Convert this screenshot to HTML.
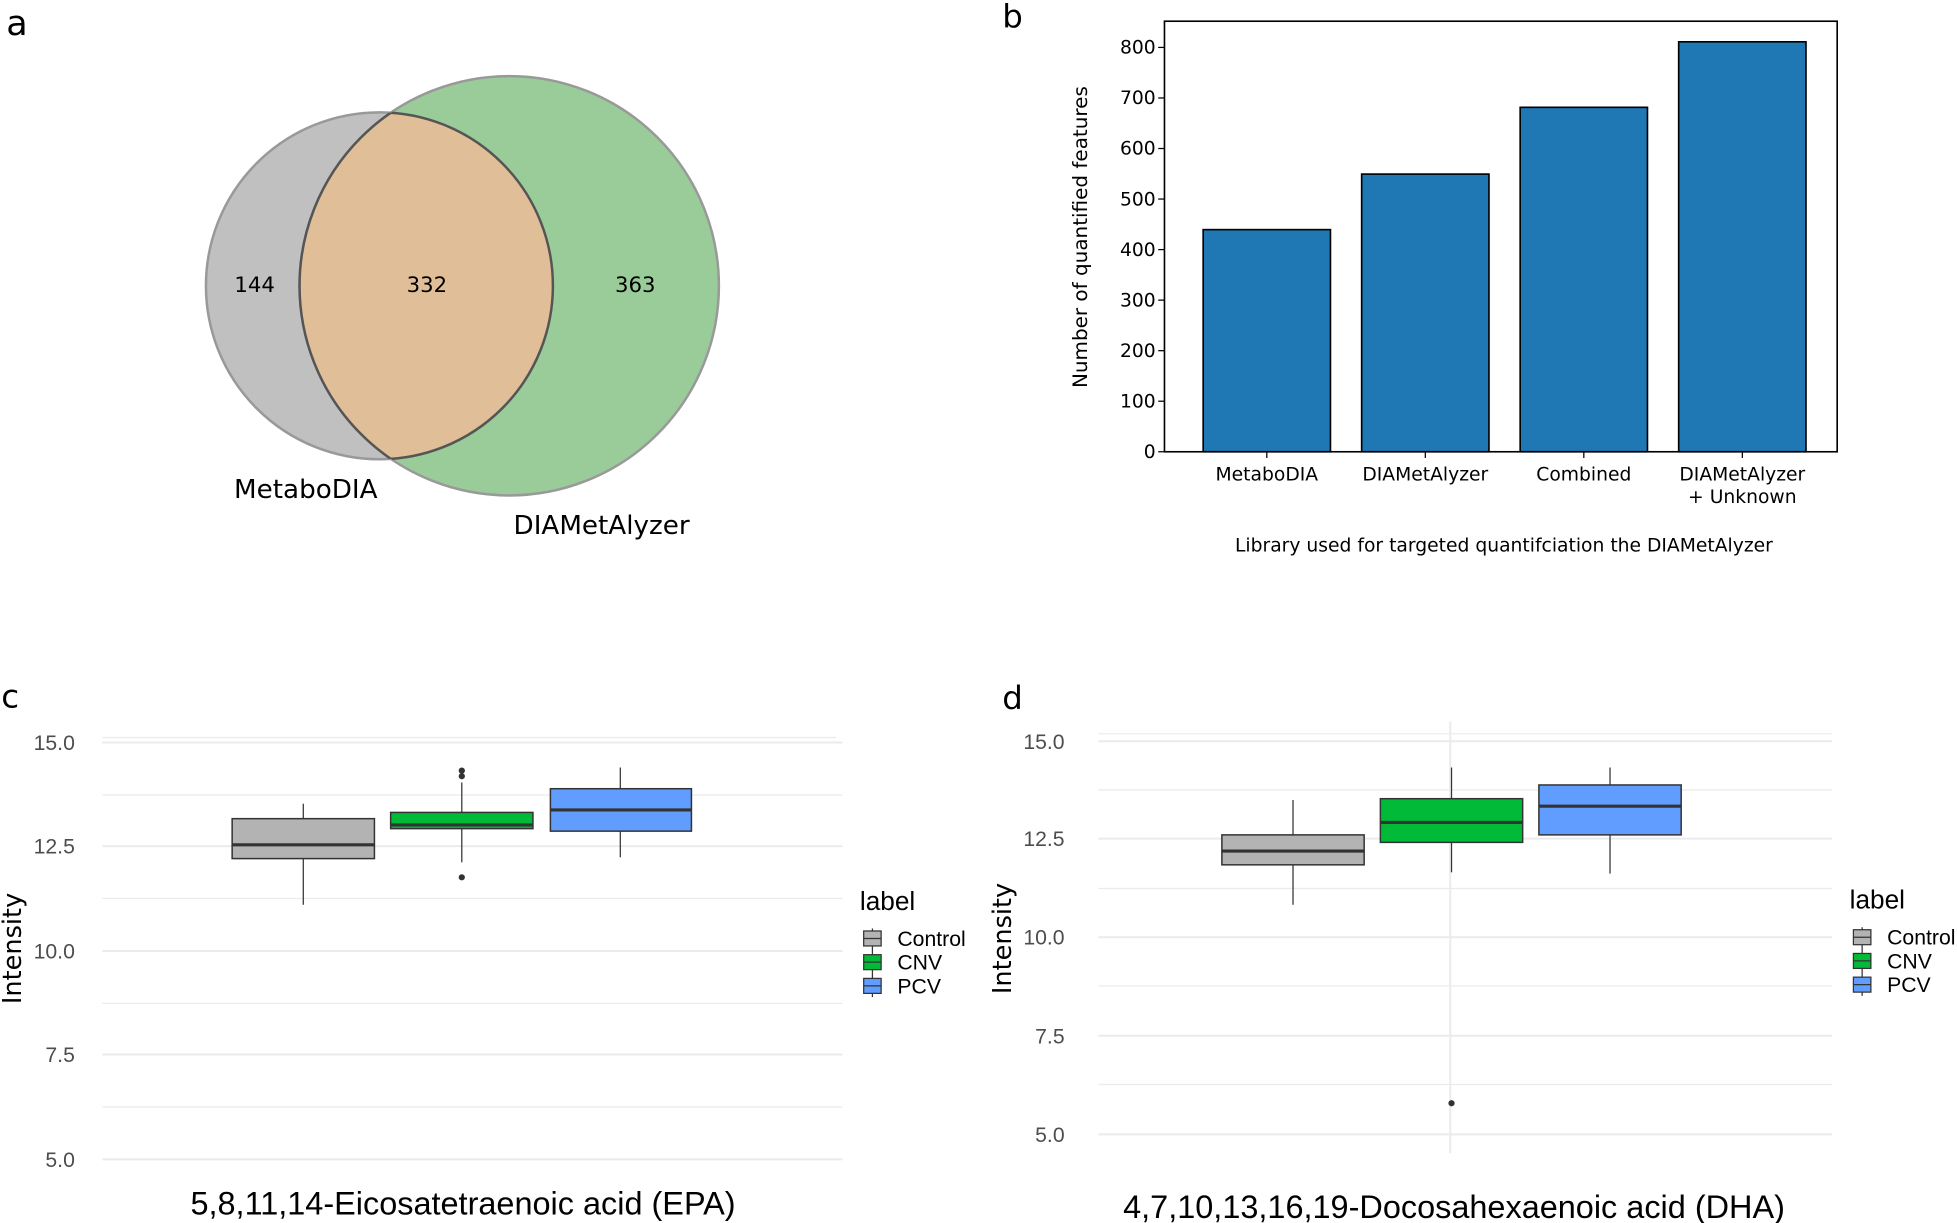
<!DOCTYPE html>
<html><head><meta charset="utf-8"><style>
html,body{margin:0;padding:0;background:#fff;}
svg{display:block;font-family:"DejaVu Sans","Liberation Sans",sans-serif;}
</style></head><body>
<svg width="1957" height="1223" viewBox="0 0 1568 980" preserveAspectRatio="none" xmlns="http://www.w3.org/2000/svg">
<defs><clipPath id="gc"><circle cx="304" cy="229" r="139"/></clipPath><clipPath id="gi"><circle cx="408" cy="229" r="168"/></clipPath></defs>
<rect width="1568" height="980" fill="#fff"/>
<!-- panel a -->
<text x="5" y="28" font-size="28">a</text>
<circle cx="304" cy="229" r="139" fill="#c0c0c0" stroke="#999" stroke-width="2"/>
<circle cx="408" cy="229" r="168" fill="#99cc99" stroke="#999" stroke-width="2"/>
<circle cx="408" cy="229" r="168" fill="#e0be98" stroke="#555" stroke-width="2" clip-path="url(#gc)"/>
<circle cx="304" cy="229" r="139" fill="none" stroke="#555" stroke-width="2" clip-path="url(#gi)"/>
<g font-size="17" text-anchor="middle"><text x="204" y="234">144</text><text x="342" y="234">332</text><text x="509" y="234">363</text></g>
<text x="245" y="399" font-size="21" text-anchor="middle">MetaboDIA</text>
<text x="482" y="428" font-size="21" text-anchor="middle">DIAMetAlyzer</text>
<!-- panel b -->
<text x="803" y="22" font-size="26">b</text>
<g fill="#1f77b4" stroke="#000" stroke-width="1.3">
<rect x="964" y="184" width="102" height="178"/>
<rect x="1091" y="139.5" width="102" height="222.5"/>
<rect x="1218" y="86" width="102" height="276"/>
<rect x="1345" y="33.5" width="102" height="328.5"/>
</g>
<rect x="933" y="17" width="539" height="345" fill="none" stroke="#000" stroke-width="1.3"/>
<g stroke="#000">
<line x1="928" x2="933" y1="362" y2="362"/><line x1="928" x2="933" y1="321.5" y2="321.5"/><line x1="928" x2="933" y1="281" y2="281"/><line x1="928" x2="933" y1="240.5" y2="240.5"/><line x1="928" x2="933" y1="200" y2="200"/><line x1="928" x2="933" y1="159.5" y2="159.5"/><line x1="928" x2="933" y1="119" y2="119"/><line x1="928" x2="933" y1="78.5" y2="78.5"/><line x1="928" x2="933" y1="38" y2="38"/>
<line x1="1015" x2="1015" y1="362" y2="367"/><line x1="1142" x2="1142" y1="362" y2="367"/><line x1="1269" x2="1269" y1="362" y2="367"/><line x1="1396" x2="1396" y1="362" y2="367"/>
</g>
<g font-size="15" text-anchor="end">
<text x="926" y="367">0</text><text x="926" y="326.5">100</text><text x="926" y="286">200</text><text x="926" y="245.5">300</text><text x="926" y="205">400</text><text x="926" y="164.5">500</text><text x="926" y="124">600</text><text x="926" y="83.5">700</text><text x="926" y="43">800</text>
</g>
<g font-size="15" text-anchor="middle">
<text x="1015" y="385">MetaboDIA</text><text x="1142" y="385">DIAMetAlyzer</text><text x="1269" y="385">Combined</text><text x="1396" y="385">DIAMetAlyzer</text><text x="1396" y="403">+ Unknown</text>
<text x="1205" y="442">Library used for targeted quantifciation the DIAMetAlyzer</text>
</g>
<text transform="translate(871,190) rotate(-90)" font-size="16" text-anchor="middle">Number of quantified features</text>
<!-- panel c -->
<text x="1" y="567" font-size="26">c</text>
<g stroke="#ebebeb" stroke-width="1">
<line x1="82" x2="670" y1="591" y2="591"/>
<line x1="82" x2="675" y1="637" y2="637"/><line x1="82" x2="675" y1="720" y2="720"/><line x1="82" x2="675" y1="804" y2="804"/><line x1="82" x2="675" y1="887" y2="887"/>
</g>
<g stroke="#ebebeb" stroke-width="1.6">
<line x1="82" x2="675" y1="595" y2="595"/><line x1="82" x2="675" y1="678" y2="678"/><line x1="82" x2="675" y1="762" y2="762"/><line x1="82" x2="675" y1="845" y2="845"/><line x1="82" x2="675" y1="929" y2="929"/>
</g>
<g font-size="17" fill="#4d4d4d" text-anchor="end" font-family="Liberation Sans,sans-serif">
<text x="60" y="601">15.0</text><text x="60" y="684">12.5</text><text x="60" y="768">10.0</text><text x="60" y="851">7.5</text><text x="60" y="935">5.0</text>
</g>
<g stroke="#333" stroke-width="1">
<line x1="243" x2="243" y1="644" y2="725"/><line x1="370" x2="370" y1="627" y2="691"/><line x1="497" x2="497" y1="615" y2="687"/>
</g>
<rect x="186" y="656" width="114" height="32" fill="#b3b3b3" stroke="#333" stroke-width="1.2"/>
<line x1="186" x2="300" y1="677" y2="677" stroke="#333" stroke-width="2.5"/>
<rect x="313" y="651" width="114" height="13" fill="#00ba38" stroke="#333" stroke-width="1.2"/>
<line x1="313" x2="427" y1="661" y2="661" stroke="#333" stroke-width="2.5"/>
<rect x="441" y="632" width="113" height="34" fill="#619cff" stroke="#333" stroke-width="1.2"/>
<line x1="441" x2="554" y1="649" y2="649" stroke="#333" stroke-width="2.5"/>
<g fill="#333"><circle cx="370" cy="617.5" r="2.5"/><circle cx="370" cy="622" r="2.5"/><circle cx="370" cy="703" r="2.5"/></g>
<text transform="translate(17,760) rotate(-90)" font-size="20.5" text-anchor="middle">Intensity</text>
<text x="371" y="973" font-size="26" text-anchor="middle" font-family="Liberation Sans,sans-serif">5,8,11,14-Eicosatetraenoic acid (EPA)</text>
<g font-family="Liberation Sans,sans-serif">
<text x="689" y="729" font-size="21">label</text>
<g stroke="#333" stroke-width="1"><line x1="699" x2="699" y1="744" y2="799"/></g>
<rect x="692" y="746" width="14" height="12" fill="#b3b3b3" stroke="#333"/><line x1="692" x2="706" y1="752" y2="752" stroke="#333"/>
<rect x="692" y="765" width="14" height="12" fill="#00ba38" stroke="#333"/><line x1="692" x2="706" y1="771" y2="771" stroke="#333"/>
<rect x="692" y="784" width="14" height="12" fill="#619cff" stroke="#333"/><line x1="692" x2="706" y1="790" y2="790" stroke="#333"/>
<g font-size="17"><text x="719" y="758">Control</text><text x="719" y="777">CNV</text><text x="719" y="796">PCV</text></g>
</g>
<!-- panel d -->
<text x="803" y="568" font-size="26">d</text>
<g stroke="#ebebeb" stroke-width="1">
<line x1="880" x2="1468" y1="633" y2="633"/><line x1="880" x2="1468" y1="712" y2="712"/><line x1="880" x2="1468" y1="790" y2="790"/><line x1="880" x2="1468" y1="869" y2="869"/>
<line x1="880" x2="1468" y1="588" y2="588"/>
</g>
<g stroke="#ebebeb" stroke-width="1.6">
<line x1="880" x2="1468" y1="594" y2="594"/><line x1="880" x2="1468" y1="672" y2="672"/><line x1="880" x2="1468" y1="751" y2="751"/><line x1="880" x2="1468" y1="830" y2="830"/><line x1="880" x2="1468" y1="909" y2="909"/>
<line x1="1162" x2="1162" y1="578" y2="924"/>
</g>
<g font-size="17" fill="#4d4d4d" text-anchor="end" font-family="Liberation Sans,sans-serif">
<text x="853" y="600">15.0</text><text x="853" y="678">12.5</text><text x="853" y="757">10.0</text><text x="853" y="836">7.5</text><text x="853" y="915">5.0</text>
</g>
<g stroke="#333" stroke-width="1">
<line x1="1036" x2="1036" y1="641" y2="725"/><line x1="1163" x2="1163" y1="615" y2="699"/><line x1="1290" x2="1290" y1="615" y2="700"/>
</g>
<rect x="979" y="669" width="114" height="24" fill="#b3b3b3" stroke="#333" stroke-width="1.2"/>
<line x1="979" x2="1093" y1="682" y2="682" stroke="#333" stroke-width="2.5"/>
<rect x="1106" y="640" width="114" height="35" fill="#00ba38" stroke="#333" stroke-width="1.2"/>
<line x1="1106" x2="1220" y1="659" y2="659" stroke="#333" stroke-width="2.5"/>
<rect x="1233" y="629" width="114" height="40" fill="#619cff" stroke="#333" stroke-width="1.2"/>
<line x1="1233" x2="1347" y1="646" y2="646" stroke="#333" stroke-width="2.5"/>
<circle cx="1163" cy="884" r="2.5" fill="#333"/>
<text transform="translate(810,752) rotate(-90)" font-size="20.5" text-anchor="middle">Intensity</text>
<text x="1165" y="976" font-size="26" text-anchor="middle" font-family="Liberation Sans,sans-serif">4,7,10,13,16,19-Docosahexaenoic acid (DHA)</text>
<g font-family="Liberation Sans,sans-serif">
<text x="1482" y="728" font-size="21">label</text>
<g stroke="#333" stroke-width="1"><line x1="1492" x2="1492" y1="743" y2="798"/></g>
<rect x="1485" y="745" width="14" height="12" fill="#b3b3b3" stroke="#333"/><line x1="1485" x2="1499" y1="751" y2="751" stroke="#333"/>
<rect x="1485" y="764" width="14" height="12" fill="#00ba38" stroke="#333"/><line x1="1485" x2="1499" y1="770" y2="770" stroke="#333"/>
<rect x="1485" y="783" width="14" height="12" fill="#619cff" stroke="#333"/><line x1="1485" x2="1499" y1="789" y2="789" stroke="#333"/>
<g font-size="17"><text x="1512" y="757">Control</text><text x="1512" y="776">CNV</text><text x="1512" y="795">PCV</text></g>
</g>
</svg>
</body></html>
